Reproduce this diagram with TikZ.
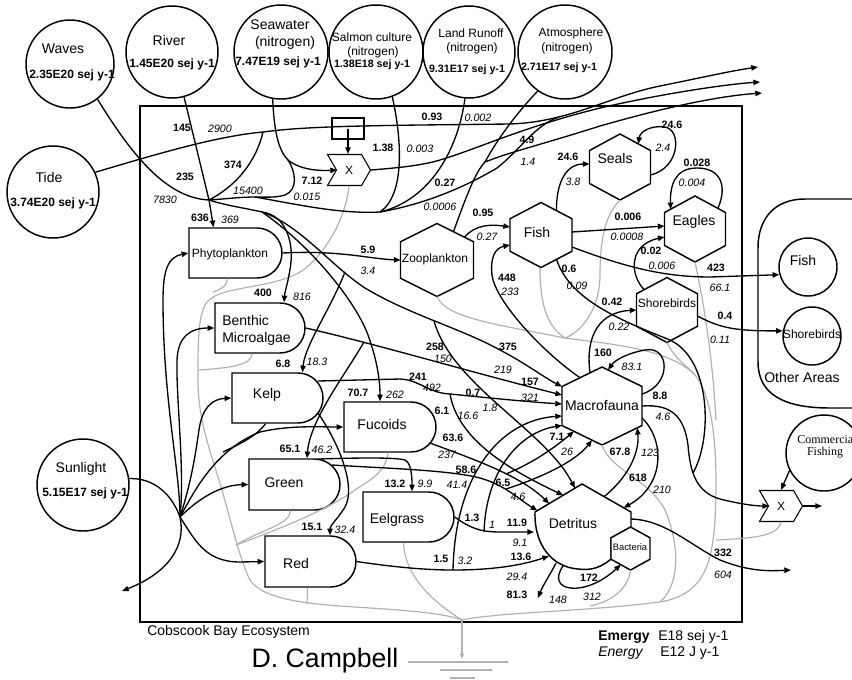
\documentclass[tikz,border=0pt]{standalone}
\usepackage{fontspec}
\setmainfont{Liberation Sans}
\newfontfamily\serifx{Liberation Serif}
\usetikzlibrary{arrows.meta,calc,shapes.misc,shapes.symbols}
\tikzset{
 nl/.style={line width=1.1pt},
 fl/.style={line width=1pt},
 ar/.style={line width=1pt,-{Triangle[length=5pt,width=4pt]}},
 hs/.style={line width=0.9pt,draw=black!30},
 bnum/.style={font=\fontsize{8}{9}\selectfont\bfseries,inner sep=0pt},
 inum/.style={font=\fontsize{8}{9}\selectfont\itshape,inner sep=0pt},
 src/.style={circle,draw,nl,fill=white,inner sep=0pt},
 prod/.style={rounded rectangle,rounded rectangle left arc=none,draw,nl,fill=white,inner sep=0pt},
 lab/.style={font=\fontsize{10.5}{12.75}\selectfont,inner sep=0pt},
 labs/.style={font=\fontsize{9}{10}\selectfont,inner sep=0pt},
 vb/.style={font=\fontsize{9}{10}\selectfont\bfseries,inner sep=0pt},
 vbs/.style={font=\fontsize{8}{9}\selectfont\bfseries,inner sep=0pt},
 xint/.style={signal,signal to=east,signal from=west,draw,line width=0.8pt,fill=white,
   minimum width=32.25pt,minimum height=23.25pt,inner sep=0pt,signal pointer angle=120,
   font=\fontsize{9}{9}\selectfont},
}
\newcounter{lc}
\newcommand\bl[2]{\stepcounter{lc}\node[bnum] (lb\thelc) at (#1) {#2};}
\newcommand\il[2]{\stepcounter{lc}\node[inum] (lb\thelc) at (#1) {#2};}
\newcommand\hexn[5]{%
 \node[inner sep=0pt,outer sep=0pt,minimum width=#4*0.75pt,minimum height=#5*0.75pt] (#1) at (#2,#3) {};
 \coordinate (#1-ne) at ($(#1.north east)!.25!(#1.south east)$);
 \coordinate (#1-se) at ($(#1.north east)!.75!(#1.south east)$);
 \coordinate (#1-sw) at ($(#1.north west)!.75!(#1.south west)$);
 \coordinate (#1-nw) at ($(#1.north west)!.25!(#1.south west)$);
 \draw[nl,fill=white] (#1.north) -- (#1-ne) -- (#1-se) -- (#1.south) -- (#1-sw) -- (#1-nw) -- cycle;}
\begin{document}
\begin{tikzpicture}[x=0.75pt,y=-0.75pt]
\useasboundingbox (0,0) rectangle (852,679);
\clip (0,0) rectangle (852,679);
% system box and other areas
\draw[line width=2.2pt] (140,106) rectangle (742,622);
\draw[nl] (880,199) -- (805,199) .. controls (775,199) and (758,218) .. (758,248) -- (758,362) .. controls (758,395) and (785,408) .. (830,408) -- (880,408);
% sources
\node[src,minimum size=66pt] (waves) at (70,64) {};
\node[src,minimum size=69pt] (river) at (172,52) {};
\node[src,minimum size=70.5pt] (seaw) at (281,52) {};
\node[src,minimum size=70.5pt] (salmon) at (376,52) {};
\node[src,minimum size=69pt] (land) at (469,52) {};
\node[src,minimum size=70.5pt] (atmos) at (565,52) {};
\node[src,minimum size=69pt] (tide) at (53,192) {};
\node[src,minimum size=69pt] (sun) at (83,485) {};
\node[src,minimum size=57pt] (comf) at (824,453) {};
\node[src,minimum size=43.5pt] (ofish) at (808,267) {};
\node[src,minimum size=43.5pt] (oshb) at (812,336) {};
% producers
\node[prod,minimum width=69.75pt,minimum height=37.5pt] (phyto) at (235.5,253) {};
\node[prod,minimum width=67.5pt,minimum height=37.5pt] (benth) at (260,328) {};
\node[prod,minimum width=68.25pt,minimum height=37.5pt] (kelp) at (277.5,398) {};
\node[prod,minimum width=69pt,minimum height=37.5pt] (fuc) at (390,427) {};
\node[prod,minimum width=68.25pt,minimum height=38.25pt] (green) at (294.5,484.5) {};
\node[prod,minimum width=68.25pt,minimum height=37.5pt] (eel) at (408.5,517) {};
\node[prod,minimum width=68.25pt,minimum height=38.25pt] (red) at (310.5,561.5) {};
% consumers
\hexn{zoo}{437}{260}{73}{73}
\hexn{fish}{541}{235}{62}{65}
\hexn{seals}{620}{167}{61}{66}
\hexn{eagles}{695}{229}{61}{66}
\hexn{shb}{667}{310}{61}{65}
\hexn{macro}{602}{406}{80}{78}
% detritus
\coordinate (det-w) at (535,512);
\coordinate (det-n) at (582,484);
\coordinate (det-e) at (631,512);
\draw[nl,fill=white] (det-w) -- (det-n) -- (det-e) -- (631,527) -- (611,538) -- (611,559) .. controls (598,570) and (588,570) .. (578,569) .. controls (552,567) and (534,545) .. (det-w) -- cycle;
\hexn{bact}{630.5}{548.5}{39}{43}
% interactions and tank
\node[xint] (x1) at (349,170) {X};
\node[xint] (x2) at (781,506) {X};
\node[draw,line width=0.8pt,minimum width=24pt,minimum height=15.75pt,inner sep=0pt] (tank) at (348,128.5) {};
% coordinates
\coordinate (J) at (209,200);
\coordinate (T1) at (263,132);
\coordinate (S2) at (288,160);
\coordinate (BJ) at (255,197);
\coordinate (M) at (380,212);
\coordinate (K) at (262,212);
\coordinate (TM) at (559,117);
\coordinate (AZ) at (485,162);
\coordinate (ex1) at (758,67);
\coordinate (ex2) at (760,82);
\coordinate (ex3) at (762,93);
\coordinate (H) at (180,517);
\coordinate (sref) at (122,591);
\coordinate (xo2) at (822,506);
\coordinate (dout) at (538,598);
\coordinate (dex) at (791,570);
\coordinate (G0) at (462,620);
\coordinate (RT) at (565,338);
\coordinate (D1) at ($(det-w)!0.85!(det-n)$);
\coordinate (D2) at ($(det-w)!0.6!(det-n)$);
\coordinate (D3) at ($(det-w)!0.3!(det-n)$);
\coordinate (D4) at ($(det-w)!0.05!(det-n)$);
\coordinate (D5) at (534,532);
\coordinate (D6) at (549,556);
% heat sinks
\draw[hs] (x1.south) .. controls (345,225) and (318,262) .. (300,272) .. controls (270,290) and (215,285) .. (205,305) .. controls (198,320) and (198,340) .. (198,380) .. controls (198,420) and (210,450) .. (222,490) .. controls (232,525) and (240,560) .. (250,580) .. controls (262,598) and (300,603) .. (340,606) .. controls (400,610) and (440,612) .. (G0);
\draw[hs] ($(phyto.south)+(-8,0)$) .. controls (227,285) and (224,288) .. (213,292);
\draw[hs] ($(benth.south)+(-8,0)$) .. controls (252,365) and (230,368) .. (199,370);
\draw[hs] ($(green.south)+(-4,0)$) .. controls (290,525) and (260,530) .. (236,545);
\draw[hs] ($(red.south)+(-3,0)$) -- (307,604);
\draw[hs] ($(fuc.south)+(-2,0)$) .. controls (386,472) and (370,480) .. (355,490) .. controls (330,508) and (290,525) .. (236,545);
\draw[hs] ($(eel.south)+(-5,0)$) .. controls (405,575) and (430,600) .. (G0);
\draw[hs] (zoo.south) .. controls (445,318) and (500,325) .. (RT);
\draw[hs] ($(fish.south)+(-1,0)$) .. controls (540,300) and (545,325) .. (RT);
\draw[hs] (seals.south) .. controls (605,215) and (600,240) .. (600,275) .. controls (600,305) and (585,330) .. (RT);
\draw[hs] (RT) .. controls (620,345) and (670,350) .. (695,375) .. controls (715,400) and (718,460) .. (715,520) .. controls (712,570) and (700,595) .. (660,602) .. controls (580,612) and (500,612) .. (G0);
\draw[hs] (eagles.south) .. controls (703,300) and (712,350) .. (716,420);
\draw[hs] (shb.south) .. controls (675,360) and (690,368) .. (695,375);
\draw[hs] (macro.south) .. controls (610,470) and (650,480) .. (665,510) .. controls (680,545) and (680,585) .. (660,602);
\draw[hs] (bact.south) .. controls (628,590) and (610,602) .. (590,606);
\draw[hs] (x2.south) .. controls (778,535) and (760,538) .. (716,540);
\draw[hs] (G0) -- (462,622);
\draw[line width=0.9pt,draw=black!30,-{Triangle[length=4pt,width=3pt]}] (462,622) -- (462,659);
\draw[line width=0.9pt,draw=black!30] (408,662) -- (508,662) (440,670) -- (492,670) (450,678) -- (475,678);
% top flows
\draw[ar] (tide.25) .. controls (170,150) and (220,136) .. (T1) .. controls (300,127) and (350,126) .. (420,125) -- (510,124) .. controls (570,122) and (610,96) .. (660,86) .. controls (700,78) and (730,71) .. (ex1);
\draw[fl] (T1) .. controls (256,162) and (236,186) .. (J);
\draw[fl] (waves.-52) .. controls (130,152) and (165,198) .. (J);
\draw[ar] (river.-75) -- (J) -- ($(phyto.north)+(-22,0)$);
\draw[ar] (seaw.-100) .. controls (274,130) and (278,150) .. (S2) .. controls (300,170) and (320,171) .. ($(x1.center)+(-12,0)$);
\draw[fl] (S2) .. controls (296,172) and (298,190) .. (285,195) .. controls (275,198) and (264,197) .. (BJ);
\draw[fl] (J) .. controls (225,199) and (240,197) .. (BJ) .. controls (300,205) and (340,214) .. (M);
\draw[fl] (salmon.-70) .. controls (402,140) and (405,195) .. (M);
\draw[fl] (land.-95) .. controls (458,150) and (430,200) .. (M);
\draw[fl] (M) .. controls (420,205) and (460,190) .. (497,168) .. controls (520,150) and (535,125) .. (TM);
\draw[ar] (x1.east) .. controls (395,168) and (420,166) .. (440,160) .. controls (480,148) and (520,128) .. (600,108) .. controls (670,92) and (730,84) .. (ex2);
\draw[ar] (tank.center) -- (tank.center |- x1.north);
\draw[fl] (atmos.-125) .. controls (515,115) and (497,140) .. (AZ);
\draw[ar] ($(zoo.north)!0.45!(zoo-ne)$) .. controls (465,200) and (475,172) .. (AZ) .. controls (510,152) and (540,145) .. (600,126) .. controls (670,106) and (720,96) .. (ex3);
% nutrient feeds
\draw[fl] (J) .. controls (228,206) and (245,208) .. (K);
\draw[ar] (K) .. controls (285,215) and (293,240) .. (291,262) .. controls (289,280) and (285,290) .. ($(benth.north)+(24,0)$);
\draw[ar] (K) .. controls (310,245) and (355,300) .. (368,335) .. controls (377,360) and (380,380) .. ($(fuc.north)+(-10,0)$);
\draw[ar] (K) .. controls (300,225) and (330,265) .. (365,288) .. controls (410,315) and (460,328) .. (500,350) .. controls (525,363) and (545,378) .. (macro-nw);
\draw[ar] (345,272) .. controls (330,310) and (305,345) .. ($(kelp.north)+(25,0)$);
\draw[ar] (364,342) .. controls (345,375) and (310,420) .. ($(green.north)+(12.5,0)$);
\draw[ar] (318,413) .. controls (340,445) and (356,487) .. (345,507) .. controls (337,520) and (330,525) .. ($(red.north)+(19.5,0)$);
\draw[ar] (318,459) .. controls (350,458) and (395,457) .. (405,460) .. controls (411,463) and (412,475) .. ($(eel.north)+(3.5,0)$);
\draw[fl] ($(kelp.south)+(-12,0)$) .. controls (255,438) and (235,446) .. (223,452);
% sunlight
\draw[fl] (sun.8) .. controls (155,478) and (172,495) .. (H);
\draw[ar] (H) .. controls (180,470) and (163,400) .. (163,300) .. controls (163,270) and (168,257) .. (phyto.west);
\draw[ar] (H) .. controls (185,470) and (176,400) .. (177,360) .. controls (178,337) and (190,328) .. (benth.west);
\draw[ar] (H) .. controls (192,480) and (196,450) .. (199,430) .. controls (202,408) and (212,399) .. (kelp.west);
\draw[ar] (H) .. controls (195,490) and (215,450) .. (260,432) .. controls (290,425) and (320,427) .. (fuc.west);
\draw[ar] (H) .. controls (200,497) and (222,485) .. (green.west);
\draw[ar] (H) .. controls (195,540) and (205,562) .. (240,562) -- (red.west);
\draw[ar] (H) .. controls (186,545) and (170,572) .. (sref);
% producer outputs
\draw[ar] (phyto.east) .. controls (340,250) and (370,259) .. (zoo.west);
\draw[ar] (benth.east) .. controls (380,345) and (470,372) .. ($(macro.west)+(0,-11)$);
\draw[ar] (318,381) -- (400,379) .. controls (420,380) and (428,393) .. (450,394) .. controls (490,398) and (530,402) .. ($(macro.west)+(0,-2)$);
\draw[ar] (430,443) .. controls (470,458) and (520,475) .. (D3);
\draw[ar] (450,394) .. controls (458,440) and (510,470) .. (D2);
\draw[ar] (434,321) .. controls (452,385) and (545,430) .. (D1);
\draw[ar] (332,465) .. controls (380,468) and (450,470) .. (480,478) .. controls (505,485) and (520,500) .. (D4);
\draw[ar] (506,474) .. controls (535,462) and (555,447) .. ($(macro-sw)!0.3!(macro.south)$);
\draw[ar] (506,489) .. controls (540,478) and (575,462) .. ($(macro-sw)!0.75!(macro.south)$);
\draw[ar] (eel.east) .. controls (470,528) and (480,532) .. (500,532) -- (D5);
\draw[ar] (484,532) .. controls (486,470) and (520,432) .. (macro-sw);
\draw[ar] (red.east) .. controls (400,568) and (430,570) .. (453,570) .. controls (490,570) and (520,566) .. (D6);
\draw[ar] (453,570) .. controls (455,475) and (500,420) .. ($(macro.west)+(0,10)$);
% consumers
\draw[ar] ($(det-n)!0.45!(det-e)$) .. controls (625,480) and (640,455) .. ($(macro-se)!0.12!(macro.south)$);
\draw[ar] ($(macro.east)+(0,12)$) .. controls (665,440) and (665,485) .. ($(det-n)!0.85!(det-e)$);
\draw[ar] ($(macro.east)+(0,-12)$) .. controls (672,385) and (670,345) .. (645,350) .. controls (628,353) and (615,360) .. ($(macro.north)!0.15!(macro-ne)$);
\draw[ar] (macro.east) .. controls (670,404) and (684,415) .. (688,445) .. controls (690,470) and (695,492) .. (720,499) .. controls (740,504) and (755,506) .. ($(x2.center)+(-12,0)$);
\draw[fl] ($(fish-se)!0.5!(fish.south)$) .. controls (570,300) and (620,320) .. (670,340) .. controls (712,360) and (712,440) .. (693,473);
\draw[ar] ($(macro-nw)!0.7!(macro.north)$) .. controls (585,335) and (600,312) .. (shb.west);
\draw[ar] ($(macro-nw)!0.45!(macro.north)$) .. controls (540,350) and (495,300) .. (492,275) .. controls (490,258) and (495,248) .. ($(fish.west)+(0,10)$);
\draw[ar] ($(zoo.north)!0.75!(zoo-ne)$) .. controls (475,225) and (490,224) .. ($(fish.west)+(0,-8)$);
\draw[ar] ($(fish.north)!0.5!(fish-ne)$) .. controls (556,185) and (565,164) .. ($(seals.west)+(0,-3)$);
\draw[ar] ($(seals.east)+(0,8)$) .. controls (680,168) and (682,130) .. (665,127) .. controls (650,125) and (640,132) .. ($(seals.north)!0.6!(seals-ne)$);
\draw[ar] ($(fish.east)+(0,-3)$) -- ($(eagles.west)+(0,-3)$);
\draw[ar] ($(eagles.north)!0.75!(eagles-ne)$) .. controls (728,185) and (720,168) .. (697,168) .. controls (675,168) and (670,185) .. ($(eagles.north)!0.8!(eagles-nw)$);
\draw[ar] ($(shb.north)!0.75!(shb-nw)$) .. controls (630,275) and (628,245) .. ($(eagles.west)+(0,8)$);
\draw[ar] ($(fish.east)+(0,12)$) .. controls (620,265) and (660,277) .. (710,277) -- (ofish.195);
\draw[ar] ($(shb.east)+(0,6)$) .. controls (720,328) and (735,331) .. (oshb.170);
\draw[ar] (comf.207) -- (x2.north);
\draw[ar] (x2.east) -- (xo2);
\draw[ar] (563,566) .. controls (545,592) and (585,598) .. ($(bact-sw)!0.5!(bact.south)$);
\draw[ar] (556,563) .. controls (550,575) and (543,585) .. (dout);
\draw[ar] (631,519) .. controls (665,520) and (690,545) .. (720,560) .. controls (750,572) and (770,571) .. (dex);
% node texts
\node[lab] (wavesT) at (63,49) {Waves};
\node[vb] (wavesV) at (72,75) {2.35E20 sej y-1};
\node[lab] (riverT) at (169,40) {River};
\node[vb] (riverV) at (172,64) {1.45E20 sej y-1};
\node[lab] (seawT) at (280,25) {Seawater};
\node[lab] (seawN) at (285,43) {(nitrogen)};
\node[vb] (seawV) at (278,62) {7.47E19 sej y-1};
\node[labs] (salT) at (372,37) {Salmon culture};
\node[labs] (salN) at (373,52) {(nitrogen)};
\node[vbs] (salV) at (372,65) {1.38E18 sej y-1};
\node[labs] (landT) at (471,33) {Land Runoff};
\node[labs] (landN) at (472,48) {(nitrogen)};
\node[vbs] (landV) at (467,70) {9.31E17 sej y-1};
\node[labs] (atmT) at (571,33) {Atmosphere};
\node[labs] (atmN) at (567,48) {(nitrogen)};
\node[vbs] (atmV) at (559,68) {2.71E17 sej y-1};
\node[lab] (tideT) at (49,177) {Tide};
\node[vb] (tideV) at (53,203) {3.74E20 sej y-1};
\node[lab] (sunT) at (81,469) {Sunlight};
\node[vb] (sunV) at (85,493) {5.15E17 sej y-1};
\node[font=\serifx\fontsize{9}{10}\selectfont,inner sep=0pt,anchor=west] (comT) at (797,440) {Commercia};
\node[font=\serifx\fontsize{9}{10}\selectfont,inner sep=0pt] (comT2) at (825,453) {Fishing};
\node[lab] (ofT) at (803,260) {Fish};
\node[labs] (osT) at (812,334) {Shorebirds};
\node[lab] (oaT) at (802,377) {Other Areas};
\node[labs] (phytoT) at (230,254) {Phytoplankton};
\node[lab,anchor=west,align=left] (benthT) at (222,330) {Benthic\\Microalgae};
\node[lab] (kelpT) at (267,395) {Kelp};
\node[lab] (fucT) at (382,424) {Fucoids};
\node[lab] (greenT) at (284,483) {Green};
\node[lab] (eelT) at (397,520) {Eelgrass};
\node[lab] (redT) at (296,563) {Red};
\node[labs] (zooT) at (435,259) {Zooplankton};
\node[lab] (fishT) at (537,232) {Fish};
\node[lab] (sealsT) at (615,158) {Seals};
\node[lab] (eaglesT) at (694,222) {Eagles};
\node[labs] (shbT) at (667,303) {Shorebirds};
\node[lab] (macroT) at (602,405) {Macrofauna};
\node[lab] (detT) at (573,523) {Detritus};
\node[font=\fontsize{7}{8}\selectfont,inner sep=0pt] (bactT) at (630,547) {Bacteria};
\node[lab,anchor=west] (ecoT) at (147,632) {Cobscook Bay Ecosystem};
\node[font=\fontsize{20}{22}\selectfont,inner sep=0pt] (authT) at (325,661) {D. Campbell};
\node[lab,anchor=west,font=\fontsize{10.5}{12}\selectfont\bfseries] (lg1) at (598,637) {Emergy};
\node[lab,anchor=west] (lg2) at (658,637) {E18 sej y-1};
\node[lab,anchor=west,font=\fontsize{10.5}{12}\selectfont\itshape] (lg3) at (598,653) {Energy};
\node[lab,anchor=west] (lg4) at (660,653) {E12 J y-1};
% flow labels
\bl{182,128}{145} \il{220,129}{2900}
\bl{233,165}{374} \il{248,191}{15400}
\bl{185,177}{235} \il{165,200}{7830}
\bl{200,218}{636} \il{230,220}{369}
\bl{312,181}{7.12} \il{307,197}{0.015}
\bl{383,148}{1.38} \il{420,149}{0.003}
\bl{432,117}{0.93} \il{478,118}{0.002}
\bl{445,183}{0.27} \il{440,207}{0.0006}
\bl{527,140}{4.9} \il{528,162}{1.4}
\bl{483,213}{0.95} \il{487,237}{0.27}
\bl{368,250}{5.9} \il{368,271}{3.4}
\bl{263,293}{400} \il{302,297}{816}
\bl{283,364}{6.8} \il{317,362}{18.3}
\bl{358,393}{70.7} \il{395,395}{262}
\bl{435,347}{258} \il{443,359}{150}
\bl{508,347}{375} \il{503,370}{219}
\bl{418,377}{241} \il{432,388}{492}
\bl{530,382}{157} \il{530,398}{321}
\bl{473,393}{0.7} \il{490,408}{1.8}
\bl{442,411}{6.1} \il{468,416}{16.6}
\bl{453,438}{63.6} \il{447,455}{237}
\bl{466,470}{58.6} \il{457,485}{41.4}
\bl{503,483}{6.5} \il{518,497}{4.6}
\bl{557,437}{7.1} \il{567,452}{26}
\bl{290,449}{65.1} \il{322,450}{46.2}
\bl{395,484}{13.2} \il{425,484}{9.9}
\bl{312,527}{15.1} \il{345,530}{32.4}
\bl{472,518}{1.3} \il{492,525}{1}
\bl{517,523}{11.9} \il{520,543}{9.1}
\bl{441,559}{1.5} \il{465,561}{3.2}
\bl{521,557}{13.6} \il{517,577}{29.4}
\bl{517,595}{81.3} \il{558,600}{148}
\bl{589,578}{172} \il{592,597}{312}
\bl{620,452}{67.8} \il{650,453}{123}
\bl{638,478}{618} \il{662,490}{210}
\bl{723,553}{332} \il{723,575}{604}
\bl{568,157}{24.6} \il{573,182}{3.8}
\bl{672,125}{24.6} \il{663,148}{2.4}
\bl{697,163}{0.028} \il{692,183}{0.004}
\bl{628,217}{0.006} \il{627,237}{0.0008}
\bl{651,251}{0.02} \il{662,266}{0.006}
\bl{507,278}{448} \il{510,292}{233}
\bl{569,269}{0.6} \il{577,286}{0.09}
\bl{716,268}{423} \il{720,288}{66.1}
\bl{612,302}{0.42} \il{619,327}{0.22}
\bl{725,316}{0.4} \il{720,340}{0.11}
\bl{603,353}{160} \il{632,367}{83.1}
\bl{660,396}{8.8} \il{663,417}{4.6}
\end{tikzpicture}
\end{document}
